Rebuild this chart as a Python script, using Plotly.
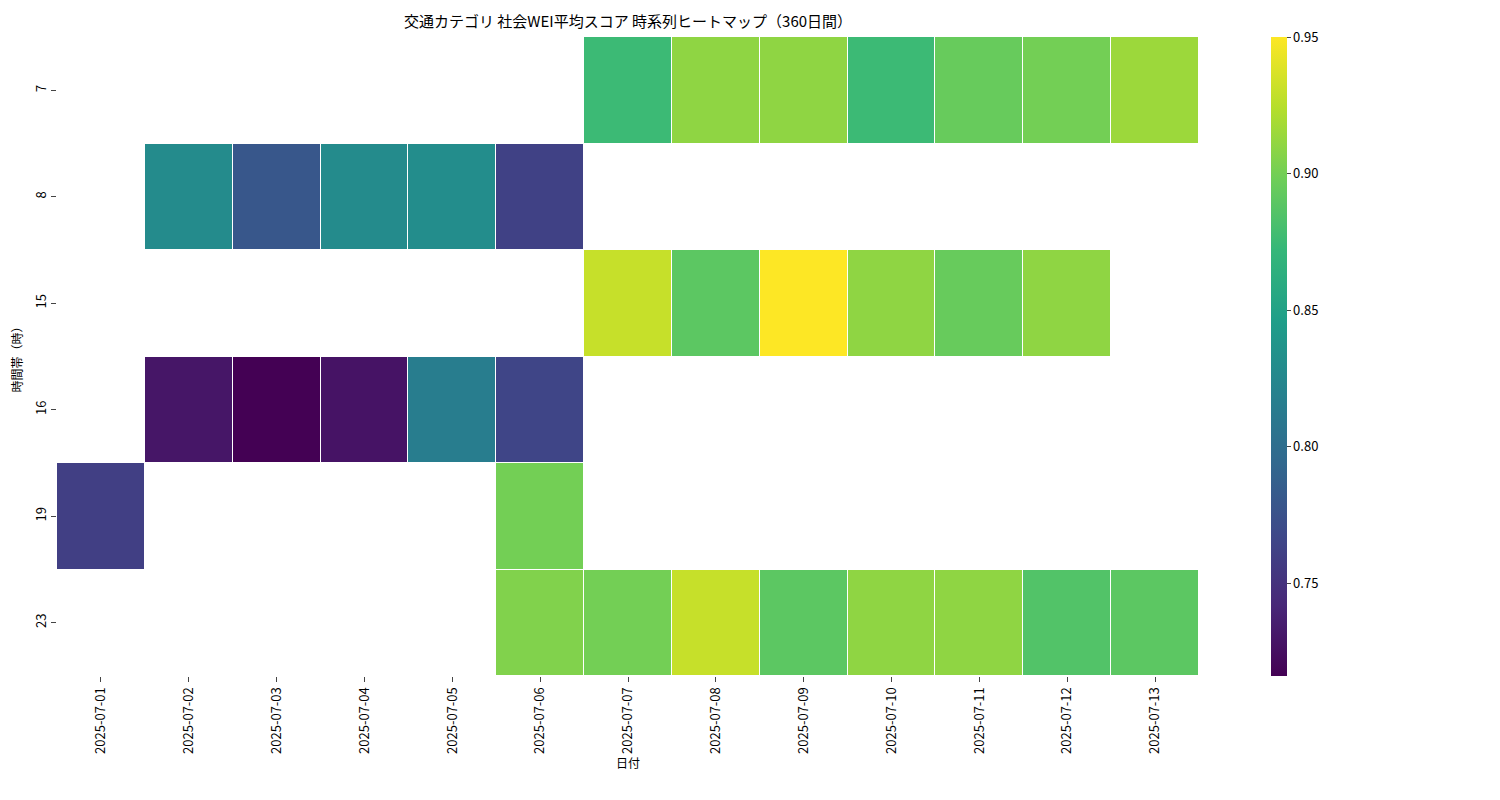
import plotly.graph_objects as go

dates = ["2025-07-01","2025-07-02","2025-07-03","2025-07-04","2025-07-05","2025-07-06","2025-07-07",
         "2025-07-08","2025-07-09","2025-07-10","2025-07-11","2025-07-12","2025-07-13"]
hours = ["7","8","15","16","19","23"]
N = None
row7  = [N,N,N,N,N,N,0.875,0.91,0.91,0.875,0.895,0.90,0.915]
row8  = [N,0.828,0.78,0.828,0.83,0.762,N,N,N,N,N,N,N]
row15 = [N,N,N,N,N,N,0.93,0.89,0.95,0.91,0.895,0.91,N]
row16 = [N,0.73,0.716,0.728,0.815,0.765,N,N,N,N,N,N,N]
row19 = [0.76,N,N,N,N,0.90,N,N,N,N,N,N,N]
row23 = [N,N,N,N,N,0.905,0.90,0.93,0.89,0.91,0.91,0.885,0.89]
z = [row7,row8,row15,row16,row19,row23]

fig = go.Figure(go.Heatmap(
    z=z, x=dates, y=hours, colorscale="Viridis", zmin=0.716, zmax=0.95,
    xgap=1, ygap=1, hoverongaps=False,
    colorbar=dict(x=1.063, xanchor="left", xpad=0, ypad=0, y=0.5, len=1, thickness=16, outlinewidth=0,
                  tickvals=[0.75,0.8,0.85,0.9,0.95], ticktext=["0.75","0.80","0.85","0.90","0.95"],
                  ticks="outside", ticklen=4, tickfont=dict(size=13)),
))
fig.update_layout(
    width=1500, height=800, margin=dict(l=49, r=309, t=29, b=132, autoexpand=False),
    plot_bgcolor="white", paper_bgcolor="white",
    font=dict(family="Noto Sans CJK JP", size=13, color="black"),
    title=dict(text="交通カテゴリ 社会WEI平均スコア 時系列ヒートマップ（360日間）", x=0.5, xref="paper",
               y=1-14/800, yanchor="middle", font=dict(size=15)),
    xaxis=dict(type="category", tickangle=-90, ticks="outside", ticklen=5, showgrid=False, automargin=False,
               title=dict(text="日付", standoff=2, font=dict(size=12))),
    yaxis=dict(type="category", autorange="reversed", tickangle=-90, ticks="outside", ticklen=5, automargin=False,
               showgrid=False, title=dict(text="時間帯（時）", standoff=8, font=dict(size=12))),
)
fig.write_html("out.html")
